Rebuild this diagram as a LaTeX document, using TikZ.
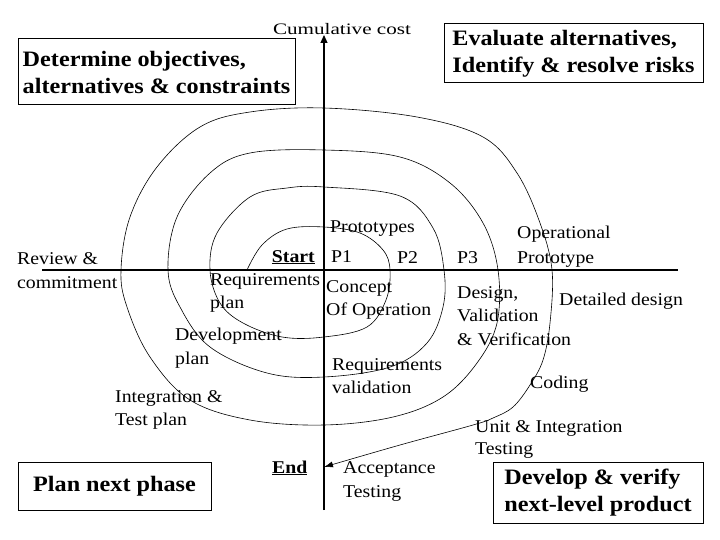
\documentclass[tikz,border=0pt]{standalone}
\usepackage{fontspec}
\setmainfont{Liberation Serif}[FakeStretch=1.1]
\usepackage{graphicx}
\usetikzlibrary{arrows.meta}
\begin{document}
\begin{tikzpicture}[x=1pt,y=-1pt,
  lbl/.style={inner sep=0pt, anchor=base west, align=left, font=\fontsize{18}{23.5}\selectfont},
  bbox/.style={draw, line width=1pt, align=left, inner sep=0pt, font=\fontsize{22}{27}\selectfont\bfseries},
  axisline/.style={line width=1.1pt},
  spiralline/.style={line width=0.6pt}]
\useasboundingbox (0,0) rectangle (720,540);

% axes
\coordinate (ytop) at (324,35);
\coordinate (ybot) at (324,510);
\coordinate (xl) at (42,270);
\coordinate (xr) at (678,270);
\draw[axisline,-{Triangle[length=8pt,width=7pt]}] (ybot) -- (ytop);
\draw[axisline] (xl) -- (xr);

% spiral
\draw[spiralline,-{Latex[length=9pt,width=6pt]}] plot[smooth,tension=0.6] coordinates {
(247,270) (262,245) (287,229) (324,227) (360,233) (383,250) (390,270) (386,300) (367,327) (324,337)
(282,337) (243,323) (220,303) (210,270) (217,233) (250,197) (287,188) (324,187) (400,196) (433,228)
(444,270) (443,307) (427,343) (390,367) (324,377) (267,373) (210,347) (180,307) (168,270) (177,217)
(210,173) (250,153) (324,150) (400,157) (450,183) (483,223) (498,270) (497,323) (477,363) (443,397)
(393,417) (324,425) (250,420) (190,400) (150,357) (127,307) (121,270) (130,217) (157,167) (200,127)
(250,112) (324,108) (417,117) (483,137) (517,173) (540,223) (552,270) (550,323) (543,360) (530,385)
(513,407) (493,418) (473,425) (400,445) (324,467)};

% boxes
\node[bbox, minimum width=277pt, minimum height=66pt] (determine) at (156.5,72)
  {Determine objectives,\\alternatives \& constraints};
\node[bbox, minimum width=259pt, minimum height=59pt] (evaluate) at (573.5,53.5)
  {Evaluate alternatives,\\Identify \& resolve risks};
\node[bbox, minimum width=193pt, minimum height=48pt] (plan) at (114.5,486)
  {Plan next phase};
\node[bbox, minimum width=210pt, minimum height=61pt] (develop) at (598,492.5)
  {Develop \& verify\\next-level product};

% labels (anchor = baseline of last line)
\node[inner sep=0pt, anchor=base, font=\fontsize{16}{18}\selectfont] (cost) at (342,35)
  {\scalebox{1.2}[1]{Cumulative cost}};
\node[lbl, font=\fontsize{18}{24}\selectfont] (review) at (17,288) {Review \&\\commitment};
\node[lbl, anchor=base east] (start) at (315,262) {\textbf{\underline{Start}}};
\node[lbl] (p1) at (331,262) {P1};
\node[lbl] (proto) at (330,233) {Prototypes};
\node[lbl] (p2) at (397,263) {P2};
\node[lbl] (p3) at (457,263) {P3};
\node[lbl, font=\fontsize{18}{25}\selectfont] (opproto) at (517,263) {Operational\\Prototype};
\node[lbl, font=\fontsize{18}{23}\selectfont] (reqplan) at (210,308) {Requirements\\plan};
\node[lbl, font=\fontsize{18}{23}\selectfont] (concept) at (326,315) {Concept\\Of Operation};
\node[lbl, font=\fontsize{18}{24}\selectfont] (devplan) at (175,364) {Development\\plan};
\node[lbl, font=\fontsize{18}{23}\selectfont] (reqval) at (332,393) {Requirements\\validation};
\node[lbl, font=\fontsize{18}{23}\selectfont] (integ) at (115,425) {Integration \&\\Test plan};
\node[lbl] (endlbl) at (272,473) {\textbf{\underline{End}}};
\node[lbl, font=\fontsize{18}{24}\selectfont] (accept) at (343,497) {Acceptance\\Testing};
\node[lbl] (design) at (457,345) {Design,\\Validation\\\& Verification};
\node[lbl] (detailed) at (559,305) {Detailed design};
\node[lbl] (coding) at (530,388) {Coding};
\node[lbl, font=\fontsize{18}{22}\selectfont] (unit) at (475,454) {Unit \& Integration\\Testing};
\end{tikzpicture}
\end{document}
